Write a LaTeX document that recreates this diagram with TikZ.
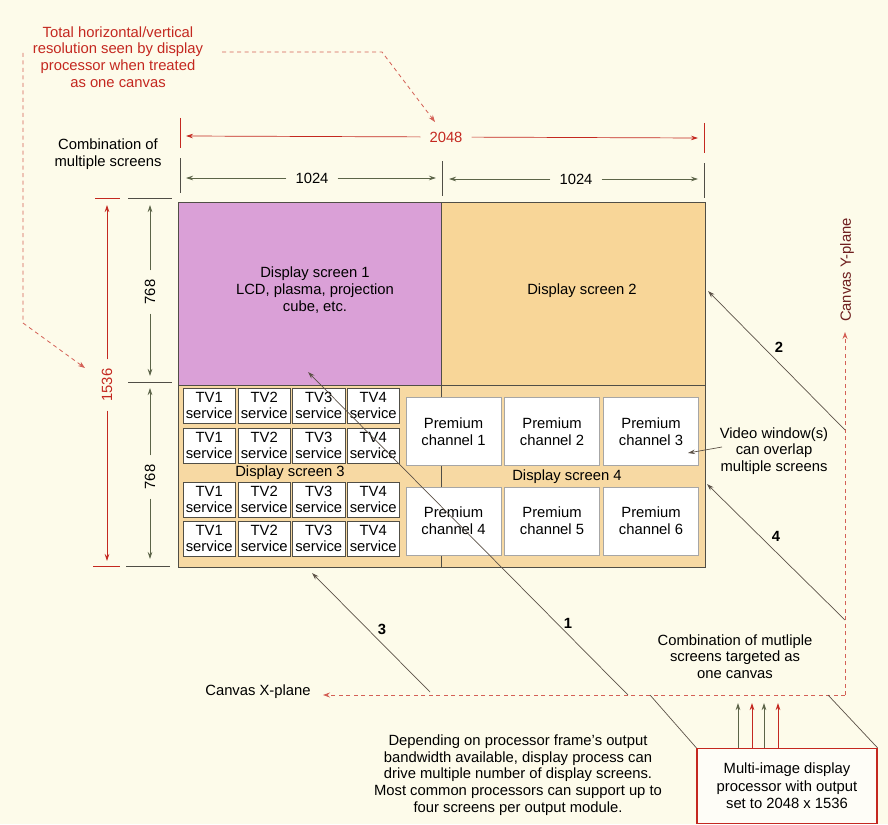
\documentclass[tikz,border=0pt]{standalone}
\usepackage{fontspec}
\setmainfont{Liberation Sans}
\usetikzlibrary{arrows.meta,calc}
\definecolor{bgc}{RGB}{253,251,234}
\definecolor{scrA}{RGB}{218,160,215}
\definecolor{scrB}{RGB}{248,214,152}
\definecolor{scrC}{RGB}{247,217,163}
\definecolor{redt}{RGB}{196,40,32}
\definecolor{redd}{RGB}{212,96,86}
\definecolor{olive}{RGB}{92,100,72}
\definecolor{ptrc}{RGB}{92,82,72}
\definecolor{edge}{RGB}{80,78,70}
\definecolor{maroon}{RGB}{110,30,30}
\tikzset{
  txt/.style={font=\fontsize{14.8}{16.7}\selectfont, align=center, inner sep=0pt},
  dimtxt/.style={font=\fontsize{14.8}{16.7}\selectfont, inner xsep=9pt, inner ysep=2pt},
  darr/.style={draw=olive, line width=0.7pt, -{Stealth[length=7pt,width=4.5pt]}},
  rarr/.style={draw=redt, line width=0.7pt, -{Stealth[length=7pt,width=4.5pt]}},
  dtick/.style={draw=edge, line width=0.8pt},
  rtick/.style={draw=redt, line width=0.8pt},
  reddash/.style={draw=redd, line width=0.8pt, dash pattern=on 4pt off 3.5pt},
  ptr/.style={draw=ptrc, line width=0.7pt, -{Stealth[length=7pt,width=4.5pt]}},
  plain/.style={draw=ptrc, line width=0.7pt},
  tvbox/.style={draw=edge, line width=0.8pt, fill=white, minimum width=52.5pt, minimum height=35pt, inner sep=0pt, align=center, font=\fontsize{14.8}{16}\selectfont},
  prembox/.style={draw=gray!70, line width=0.6pt, fill=white, minimum width=95pt, minimum height=68pt, inner sep=0pt, align=center, font=\fontsize{14.8}{16.7}\selectfont},
  numlab/.style={font=\fontsize{14.8}{16.7}\selectfont\bfseries, inner sep=0pt}
}
\begin{document}
\begin{tikzpicture}[x=1pt,y=-1pt]
\useasboundingbox (0,0) rectangle (888,824);
\fill[bgc] (0,0) rectangle (888,824);

% screens
\fill[scrC] (178,385) rectangle (705,567);
\fill[scrA] (178,202) rectangle (441,385);
\fill[scrB] (441,202) rectangle (705,385);
\draw[edge, line width=0.8pt] (178,202) rectangle (705,567);
\draw[edge, line width=0.8pt] (178,385) -- (705,385);
\draw[edge, line width=0.8pt] (441,202) -- (441,567);
\node[txt] (s1) at (315,290) {Display screen 1\\LCD, plasma, projection\\cube, etc.};
\node[txt] (s2) at (582,291) {Display screen 2};
\node[txt] (s3) at (290,473) {Display screen 3};
\node[txt] (s4) at (567,477) {Display screen 4};

% TV boxes
\foreach \r/\y in {1/388,2/428,3/482,4/521}{
  \foreach \c/\x in {1/183,2/238,3/292.5,4/347}{
    \node[tvbox] (tv\r\c) at (\x+26.25,\y+17.5) {TV\c\\service};
  }
}
% premium boxes
\node[prembox] (p1) at (453.5,431.5) {Premium\\channel 1};
\node[prembox] (p2) at (552,431.5) {Premium\\channel 2};
\node[prembox] (p3) at (651,431.5) {Premium\\channel 3};
\node[prembox] (p4) at (453.5,521) {Premium\\channel 4};
\node[prembox] (p5) at (552,521) {Premium\\channel 5};
\node[prembox] (p6) at (651,521) {Premium\\channel 6};

% title and red dashed leaders
\node[txt, text=redt] (title) at (118,57) {Total horizontal/vertical\\resolution seen by display\\processor when treated\\as one canvas};
\coordinate (tA) at (222,52);
\coordinate (tB) at (382,52);
\coordinate (tC) at (435,122);
\draw[reddash, -{Stealth[length=7pt,width=5pt]}] (tA) -- (tB) -- (tC);
\coordinate (lA) at (23,53);
\coordinate (lB) at (23,323);
\coordinate (lC) at (85,368);
\draw[reddash, -{Stealth[length=7pt,width=5pt]}] (lA) -- (lB) -- (lC);

\node[txt] (comb) at (108,154.5) {Combination of\\multiple screens};

% 2048
\draw[rtick] (180,118) -- (180,148);
\draw[rtick] (704,123) -- (704,153);
\node[dimtxt, text=redt] (d2048) at (446,137) {2048};
\coordinate (d2048L) at (186,136);
\coordinate (d2048R) at (698,138);
\draw[rarr] (d2048) -- (d2048L);
\draw[rarr] (d2048) -- (d2048R);

% 1024
\draw[dtick] (180,158) -- (180,193);
\draw[dtick] (442,161) -- (442,196);
\draw[dtick] (704,163) -- (704,198);
\node[dimtxt] (d1024a) at (312,178) {1024};
\coordinate (d1024aL) at (186,178);
\coordinate (d1024aR) at (436,178);
\draw[darr] (d1024a) -- (d1024aL);
\draw[darr] (d1024a) -- (d1024aR);
\node[dimtxt] (d1024b) at (576,179) {1024};
\coordinate (d1024bL) at (449,179);
\coordinate (d1024bR) at (698,179);
\draw[darr] (d1024b) -- (d1024bL);
\draw[darr] (d1024b) -- (d1024bR);

% 1536
\draw[rtick] (95,198) -- (120,198);
\draw[rtick] (93,566) -- (120,566);
\node[dimtxt, text=redt, rotate=90] (d1536) at (107,385) {1536};
\coordinate (d1536T) at (107,205);
\coordinate (d1536B) at (107,561);
\draw[rarr] (d1536) -- (d1536T);
\draw[rarr] (d1536) -- (d1536B);

% 768
\draw[dtick] (128,198) -- (172,198);
\draw[dtick] (128,382) -- (172,382);
\draw[dtick] (126,566) -- (170,566);
\node[dimtxt, rotate=90] (d768a) at (150,292) {768};
\coordinate (d768aT) at (150,205);
\coordinate (d768aB) at (150,376);
\draw[darr] (d768a) -- (d768aT);
\draw[darr] (d768a) -- (d768aB);
\node[dimtxt, rotate=90] (d768b) at (150,477) {768};
\coordinate (d768bT) at (150,388);
\coordinate (d768bB) at (150,559);
\draw[darr] (d768b) -- (d768bT);
\draw[darr] (d768b) -- (d768bB);

% canvas planes
\coordinate (cnr) at (845,695);
\node[txt, text=maroon, rotate=90] (yplane) at (847,270) {Canvas Y-plane};
\node[txt] (xplane) at (258,692) {Canvas X-plane};
\coordinate (yend) at (845,332);
\coordinate (xend) at (323,695);
\draw[reddash, -{Stealth[length=7pt,width=5pt]}] (cnr) -- (yend);
\draw[reddash, -{Stealth[length=7pt,width=5pt]}] (cnr) -- (xend);

% pointers 1-4
\coordinate (a1s) at (628,695);
\coordinate (a1e) at (308,372);
\coordinate (a2s) at (845,430);
\coordinate (a2e) at (708,291);
\coordinate (a3s) at (430,692);
\coordinate (a3e) at (312,573);
\coordinate (a4s) at (845,620);
\coordinate (a4e) at (707,484);
\draw[ptr] (a1s) -- (a1e);
\draw[ptr] (a2s) -- (a2e);
\draw[ptr] (a3s) -- (a3e);
\draw[ptr] (a4s) -- (a4e);
\node[numlab] (n1) at (568,623) {1};
\node[numlab] (n2) at (779,347) {2};
\node[numlab] (n3) at (382,629) {3};
\node[numlab] (n4) at (776,536) {4};

% video window note
\node[txt] (vw) at (774,451) {Video window(s)\\can overlap\\multiple screens};
\coordinate (vwS) at (722,447);
\coordinate (vwE) at (688,453);
\draw[ptr] (vwS) -- (vwE);

\node[txt] (canv) at (735,656.5) {Combination of mutliple\\screens targeted as\\one canvas};

% bottom note
\node[txt] (note) at (518,775) {Depending on processor frame's output\\bandwidth available, display process can\\drive multiple number of display screens.\\Most common processors can support up to\\four screens per output module.};

% processor box
\node[draw=redt, line width=1.2pt, fill=white!60!bgc, minimum width=180pt, minimum height=75pt, inner sep=0pt, align=center, font=\fontsize{14.8}{17.5}\selectfont] (proc) at (787,786) {Multi-image display\\processor with output\\set to 2048 x 1536};
\coordinate (pl) at (650,695);
\coordinate (pr) at (828,695);
\draw[plain] (proc.north west) -- (pl);
\draw[plain] (proc.north east) -- (pr);
\foreach \i/\xx/\cc in {1/738/olive,2/752/redt,3/764/olive,4/778/redt}{
  \coordinate (up\i) at (\xx,703);
  \draw[draw=\cc, line width=0.8pt, -{Stealth[length=7pt,width=4.5pt]}] (proc.north -| up\i) -- (up\i);
}
\end{tikzpicture}
\end{document}
